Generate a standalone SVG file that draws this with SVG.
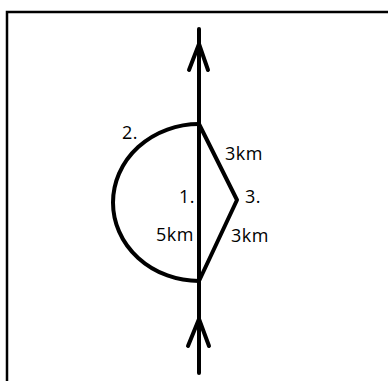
<svg xmlns="http://www.w3.org/2000/svg" width="388" height="381" viewBox="0 0 388 381">
<style>
.ln{fill:none;stroke:#000;stroke-width:4;stroke-linecap:round;stroke-linejoin:round}
.t{font-family:"Open Sans","DejaVu Sans",sans-serif;font-size:18px;fill:#000;letter-spacing:0.5px}
</style>
<rect width="388" height="381" fill="#fff"/>
<path d="M7,381 V12 H388" fill="none" stroke="#000" stroke-width="2.5"/>
<g id="connectors">
<path class="ln" d="M199,29 V373"/>
<path class="ln" d="M189,70 L199,44 L208,70"/>
<path class="ln" d="M188,346 L199,319 L209,346"/>
</g>
<g id="route1"><text class="t" x="179" y="203">1.</text><text class="t" x="156" y="241">5km</text></g>
<g id="route2">
<path class="ln" d="M199,124 A86,78.5 0 0 0 199,281"/>
<text class="t" x="122" y="139">2.</text>
</g>
<g id="route3">
<path class="ln" d="M199,124 L237,200 L199,281"/>
<text class="t" x="245" y="203">3.</text>
<text class="t" x="225" y="160">3km</text>
<text class="t" x="231" y="242">3km</text>
</g>
</svg>
